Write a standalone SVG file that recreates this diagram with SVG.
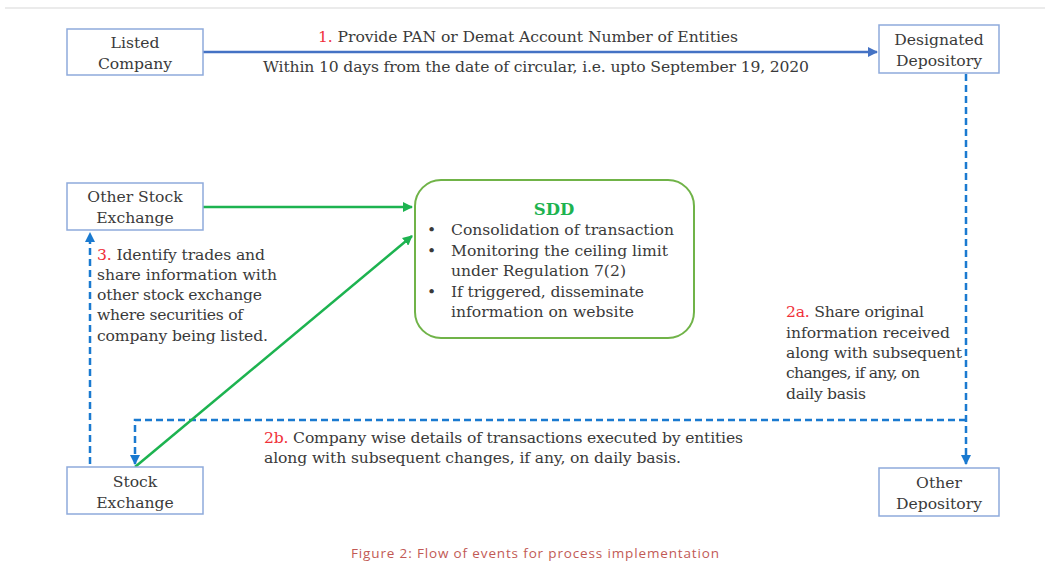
<svg xmlns="http://www.w3.org/2000/svg" width="1045" height="563" viewBox="0 0 1045 563">
<defs>
<style>
.box{fill:#fff;stroke:#8eaadb;stroke-width:1.5}
.t{font-family:"DejaVu Serif","Liberation Serif",serif;font-size:15.6px;fill:#3a3a3a}
.c{text-anchor:middle}
.r{fill:#f0303a}
.blue{stroke:#4472c4;stroke-width:2.5;fill:none}
.dash{stroke:#1a7ad0;stroke-width:2.5;fill:none;stroke-dasharray:7,4}
.green{stroke:#1db350;stroke-width:2.5;fill:none}
</style>
<marker id="ab" viewBox="0 0 10 10" refX="9" refY="5" markerWidth="4" markerHeight="4" orient="auto"><path d="M0,0L10,5L0,10z" fill="#4472c4"/></marker>
<marker id="ad" viewBox="0 0 10 10" refX="9" refY="5" markerWidth="4" markerHeight="4" orient="auto"><path d="M0,0L10,5L0,10z" fill="#1a7ad0"/></marker>
<marker id="ag" viewBox="0 0 10 10" refX="9" refY="5" markerWidth="4" markerHeight="4" orient="auto"><path d="M0,0L10,5L0,10z" fill="#1db350"/></marker>
</defs>
<rect width="1045" height="563" fill="#fff"/>
<line x1="5" y1="8" x2="1045" y2="8" stroke="#e4e4e4" stroke-width="1.5"/>

<g id="connectors">
<line class="blue" x1="203" y1="52" x2="877" y2="52" marker-end="url(#ab)"/>
<path class="dash" d="M966,74 V464" marker-end="url(#ad)"/>
<path class="dash" d="M966,420 H135 V464" marker-end="url(#ad)"/>
<path class="dash" d="M90,464 V233" marker-end="url(#ad)"/>
<line class="green" x1="203" y1="207" x2="412" y2="207" marker-end="url(#ag)"/>
<line class="green" x1="135" y1="467" x2="412" y2="236" marker-end="url(#ag)"/>
</g>

<g id="labels">
<text class="t" x="318" y="42" textLength="420"><tspan class="r">1.</tspan> Provide PAN or Demat Account Number of Entities</text>
<text class="t" x="263" y="72" textLength="546">Within 10 days from the date of circular, i.e. upto September 19, 2020</text>
<text class="t" x="97" y="260" textLength="168"><tspan class="r">3.</tspan> Identify trades and</text>
<text class="t" x="97" y="280" textLength="180">share information with</text>
<text class="t" x="97" y="300" textLength="165">other stock exchange</text>
<text class="t" x="97" y="320" textLength="146">where securities of</text>
<text class="t" x="97" y="341" textLength="171">company being listed.</text>
<text class="t" x="786" y="317" textLength="138"><tspan class="r">2a.</tspan> Share original</text>
<text class="t" x="786" y="338" textLength="164">information received</text>
<text class="t" x="786" y="358" textLength="176">along with subsequent</text>
<text class="t" x="786" y="378" textLength="134">changes, if any, on</text>
<text class="t" x="786" y="399" textLength="80">daily basis</text>
<text class="t" x="264" y="443" textLength="479"><tspan class="r">2b.</tspan> Company wise details of transactions executed by entities</text>
<text class="t" x="264" y="463" textLength="417">along with subsequent changes, if any, on daily basis.</text>
</g>

<g id="listed-company">
<rect class="box" x="67" y="29" width="136" height="46"/>
<text class="t c" x="135" y="48">Listed</text>
<text class="t c" x="135" y="69">Company</text>
</g>
<g id="designated-depository">
<rect class="box" x="879" y="25" width="120" height="48"/>
<text class="t c" x="939" y="45">Designated</text>
<text class="t c" x="939" y="66">Depository</text>
</g>
<g id="other-stock-exchange">
<rect class="box" x="67" y="183" width="136" height="47"/>
<text class="t c" x="135" y="202">Other Stock</text>
<text class="t c" x="135" y="223">Exchange</text>
</g>
<g id="stock-exchange">
<rect class="box" x="67" y="467" width="136" height="47"/>
<text class="t c" x="135" y="487">Stock</text>
<text class="t c" x="135" y="508">Exchange</text>
</g>
<g id="other-depository">
<rect class="box" x="879" y="468" width="120" height="48"/>
<text class="t c" x="939" y="488">Other</text>
<text class="t c" x="939" y="509">Depository</text>
</g>
<g id="sdd">
<rect x="415" y="180" width="279" height="158" rx="26" fill="#fff" stroke="#70b348" stroke-width="2"/>
<text class="t c" x="554" y="215" style="font-weight:bold;fill:#1db350;font-size:16.5px">SDD</text>
<text class="t" x="427" y="235">•</text>
<text class="t" x="451" y="235" textLength="223">Consolidation of transaction</text>
<text class="t" x="427" y="256">•</text>
<text class="t" x="451" y="256" textLength="217">Monitoring the ceiling limit</text>
<text class="t" x="451" y="276" textLength="175">under Regulation 7(2)</text>
<text class="t" x="427" y="297">•</text>
<text class="t" x="451" y="297" textLength="193">If triggered, disseminate</text>
<text class="t" x="451" y="317" textLength="183">information on website</text>
</g>
<text x="535" y="558" text-anchor="middle" textLength="368" style="font-family:'Open Sans','Noto Sans',sans-serif;font-size:13.5px;fill:#c25a55">Figure 2: Flow of events for process implementation</text>
</svg>
